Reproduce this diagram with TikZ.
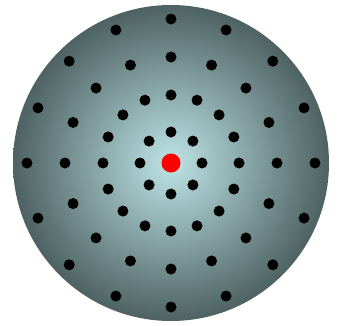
\documentclass[tikz,border=0pt]{standalone}
\usetikzlibrary{calc}

\definecolor{disccentre}{RGB}{190,228,230}
\definecolor{discrim}{RGB}{78,98,99}

\begin{document}
\begin{tikzpicture}[
  x=1pt, y=-1pt,
  disc/.style={inner color=disccentre, outer color=discrim},
  hole/.style={circle, fill=black, inner sep=0pt, minimum size=11pt},
  core/.style={circle, fill=red, inner sep=0pt, minimum size=19pt}
]
\useasboundingbox (0,0) rectangle (341,325);

% disc
\coordinate (c) at (171,163);
\path[disc] (c) circle[radius=158];

% centre
\node[core] (centre) at (c) {};

% ring of 8
\foreach \k in {0,...,7}
  \node[hole] (a\k) at ($(c)+({90+45*\k}:31)$) {};

% outer rings of 16
\foreach \r/\n in {68/b, 106/d, 144/e}
  \foreach \k in {0,...,15}
    \node[hole] (\n\k) at ($(c)+({90+22.5*\k}:\r)$) {};
\end{tikzpicture}
\end{document}
